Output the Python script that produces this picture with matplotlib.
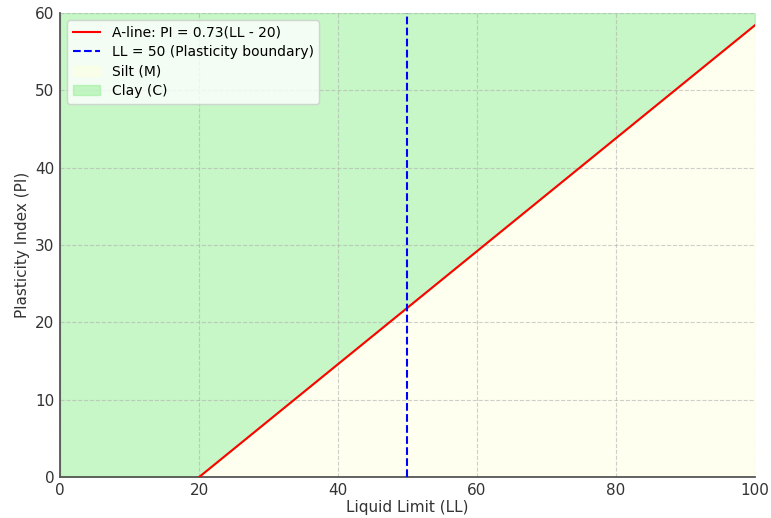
import matplotlib.pyplot as plt

# A-line end points (PI = 0.73(LL - 20))
ll_aline = [20, 100]
pi_aline = [0, 58.4]

# region outlines
ll_clay = [0, 20, 100]
pi_clay_low = [0, 0, 58.4]
pi_top = 60

ll_boundary = 50

fig = plt.figure(figsize=(7.71, 5.18), dpi=100)
ax = fig.add_axes([0.078, 0.079, 0.901, 0.896])

ax.plot(ll_aline, pi_aline, color="red", label="A-line: PI = 0.73(LL - 20)", zorder=3)
ax.axvline(ll_boundary, color="blue", linestyle="--", label="LL = 50 (Plasticity boundary)", zorder=3)
ax.fill_between(ll_aline, [0, 0], pi_aline, color="lightyellow", alpha=0.5, label="Silt (M)")
ax.fill_between(ll_clay, pi_clay_low, pi_top, color="lightgreen", alpha=0.5, label="Clay (C)")

ax.set_xlim(0, 100)
ax.set_ylim(0, 60)
ax.set_xlabel("Liquid Limit (LL)", fontsize=11, color="#333333", labelpad=2)
ax.set_ylabel("Plasticity Index (PI)", fontsize=11, color="#333333", labelpad=4)
ax.tick_params(length=0, pad=4, labelsize=11, labelcolor="#333333")
for side in ["left", "bottom"]:
    ax.spines[side].set_color("#555555")
    ax.spines[side].set_linewidth(1.3)
for side in ["top", "right"]:
    ax.spines[side].set_visible(False)
ax.grid(True, linestyle="--", alpha=0.6)
ax.legend(loc="upper left", labelspacing=0.4)

plt.savefig("out.png", dpi=100)
